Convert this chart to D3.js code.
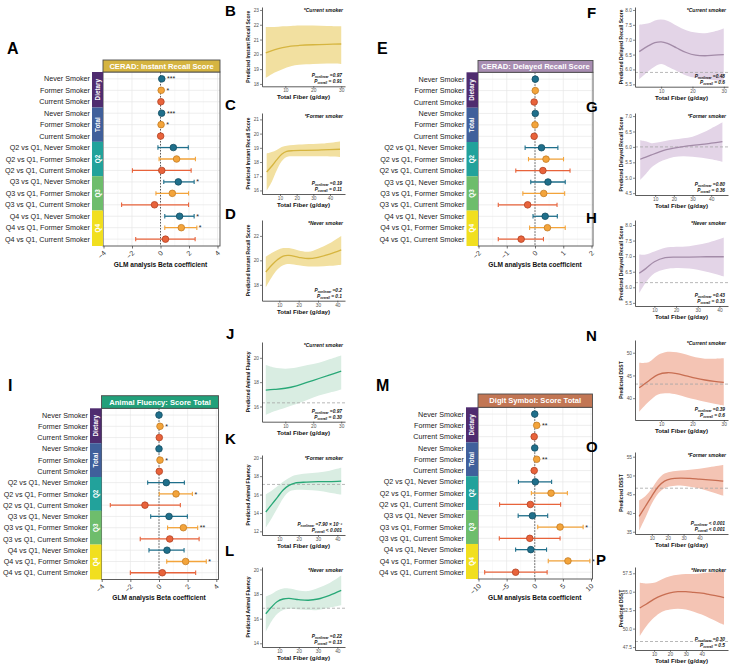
<!DOCTYPE html>
<html>
<head>
<meta charset="utf-8">
<script src="https://cdn.jsdelivr.net/npm/d3@7"></script>
<style>
body { margin: 0; background: #fff; }
svg { display: block; font-family: "Liberation Sans", Arial, sans-serif; }
</style>
</head>
<body>
<svg id="fig" width="734" height="664"></svg>
<script>
// ---- forest plot rows ----
const rowLabels = [
    "Never Smoker", "Former Smoker", "Current Smoker",
    "Never Smoker", "Former Smoker", "Current Smoker",
    "Q2 vs Q1, Never Smoker", "Q2 vs Q1, Former Smoker", "Q2 vs Q1, Current Smoker",
    "Q3 vs Q1, Never Smoker", "Q3 vs Q1, Former Smoker", "Q3 vs Q1, Current Smoker",
    "Q4 vs Q1, Never Smoker", "Q4 vs Q1, Former Smoker", "Q4 vs Q1, Current Smoker"
]
const rowSmoker = ["never", "former", "current", "never", "former", "current",
    "never", "former", "current", "never", "former", "current", "never", "former", "current"]
const groupNames = ["Dietary", "Total", "Q2", "Q3", "Q4"]

// CERAD instant recall
const irBeta = [0.09, 0.05, 0.03, 0.08, 0.04, 0.01, 0.90, 1.13, 0.09, 1.25, 0.83, -0.42, 1.34, 1.46, 0.35]
const irLow = [0.05, 0.01, -0.03, 0.04, 0.00, -0.05, -0.18, -0.10, -1.97, 0.23, -0.32, -2.73, 0.30, 0.30, -1.74]
const irHigh = [0.13, 0.09, 0.09, 0.12, 0.08, 0.07, 1.95, 2.45, 2.15, 2.36, 1.97, 1.97, 2.36, 2.55, 2.43]
const irStars = ["***", "*", "", "***", "*", "", "", "", "", "*", "", "", "*", "*", ""]

// CERAD delayed recall
const drBeta = [0.01, 0.01, -0.03, 0.01, 0.00, -0.03, 0.23, 0.39, 0.28, 0.46, 0.31, -0.26, 0.36, 0.44, -0.49]
const drLow = [-0.01, -0.01, -0.05, -0.01, -0.02, -0.05, -0.35, -0.23, -0.68, -0.15, -0.43, -1.30, -0.07, -0.19, -1.30]
const drHigh = [0.03, 0.03, -0.01, 0.03, 0.02, -0.01, 0.81, 1.01, 1.24, 1.07, 1.05, 0.78, 0.79, 1.07, 0.30]
const drStars = ["", "", "", "", "", "", "", "", "", "", "", "", "", "", ""]

// animal fluency
const afBeta = [0.00, 0.07, 0.02, 0.00, 0.07, 0.02, 0.51, 1.19, -0.98, 0.70, 1.70, 0.75, 0.56, 1.86, 0.23]
const afLow = [-0.04, 0.03, -0.03, -0.04, 0.03, -0.03, -0.79, 0.02, -3.40, -0.58, 0.60, -1.31, -0.70, 0.54, -2.00]
const afHigh = [0.04, 0.11, 0.07, 0.04, 0.11, 0.07, 1.77, 2.33, 1.49, 1.98, 2.70, 2.80, 1.75, 3.30, 2.56]
const afStars = ["", "*", "", "", "*", "", "", "*", "", "", "**", "", "", "*", ""]

// digit symbol
const dsBeta = [0.00, 0.35, -0.10, 0.00, 0.35, -0.10, 0.10, 2.90, -0.78, -0.42, 4.50, -0.88, -0.70, 5.90, -3.40]
const dsLow = [-0.15, 0.15, -0.30, -0.15, 0.15, -0.30, -2.90, -0.60, -6.25, -2.95, 0.53, -6.30, -3.40, 2.40, -8.90]
const dsHigh = [0.15, 0.55, 0.10, 0.15, 0.55, 0.10, 3.00, 5.80, 4.60, 2.30, 8.60, 4.50, 2.10, 9.80, 2.20]
const dsStars = ["", "**", "", "", "**", "", "", "", "", "", "*", "", "", "*", ""]

// ---- dose-response curves (fiber g/day) ----
const bX = [3, 6, 9, 12, 15, 20, 25, 30]
const bFit = [20.1, 20.3, 20.45, 20.55, 20.6, 20.65, 20.68, 20.7]
const bLo = [18.4, 18.75, 19.0, 19.2, 19.3, 19.35, 19.38, 19.35]
const bHi = [21.85, 21.85, 21.9, 21.92, 21.95, 21.95, 21.92, 21.9]

const cX = [2, 5, 8, 11, 14, 18, 25, 35, 46]
const cFit = [17.3, 17.7, 18.15, 18.55, 18.75, 18.8, 18.82, 18.85, 18.9]
const cLo = [16.0, 16.6, 17.4, 18.05, 18.35, 18.4, 18.4, 18.4, 18.35]
const cHi = [18.6, 18.7, 18.85, 19.05, 19.15, 19.2, 19.25, 19.3, 19.45]

const dX = [3, 6, 9, 12, 15, 20, 25, 30, 36, 42]
const dFit = [19.05, 19.6, 20.05, 20.35, 20.4, 20.25, 20.15, 20.25, 20.5, 20.85]
const dLo = [17.8, 18.6, 19.25, 19.6, 19.7, 19.6, 19.5, 19.5, 19.55, 19.65]
const dHi = [20.3, 20.6, 20.85, 21.0, 21.0, 20.8, 20.7, 20.95, 21.4, 22.0]

const fX = [3, 6, 8, 10, 12, 15, 18, 21, 24, 27, 30]
const fFit = [6.6, 6.8, 6.9, 6.93, 6.88, 6.72, 6.57, 6.48, 6.46, 6.48, 6.5]
const fLo = [5.67, 5.95, 6.1, 6.18, 6.1, 5.95, 5.8, 5.72, 5.68, 5.64, 5.6]
const fHi = [7.5, 7.55, 7.65, 7.68, 7.64, 7.47, 7.32, 7.24, 7.22, 7.28, 7.38]

const gX = [2, 5, 8, 12, 16, 20, 25, 30, 35, 40, 46]
const gFit = [5.6, 5.67, 5.74, 5.83, 5.91, 5.96, 6.01, 6.05, 6.08, 6.12, 6.17]
const gLo = [4.93, 5.12, 5.33, 5.5, 5.6, 5.67, 5.7, 5.68, 5.65, 5.6, 5.52]
const gHi = [6.22, 6.18, 6.12, 6.15, 6.2, 6.24, 6.28, 6.33, 6.45, 6.6, 6.8]

const hX = [3, 6, 10, 15, 20, 26, 34, 42]
const hFit = [6.45, 6.6, 6.82, 6.95, 6.97, 6.97, 6.98, 6.98]
const hLo = [5.82, 6.15, 6.45, 6.58, 6.62, 6.6, 6.5, 6.35]
const hHi = [7.05, 7.05, 7.15, 7.27, 7.3, 7.32, 7.42, 7.6]

const jX = [3, 6, 10, 14, 18, 22, 26, 30]
const jFit = [17.35, 17.4, 17.5, 17.7, 18.0, 18.3, 18.6, 18.9]
const jLo = [15.3, 15.6, 15.9, 16.2, 16.55, 16.9, 17.15, 17.4]
const jHi = [19.4, 19.2, 19.1, 19.2, 19.4, 19.6, 19.9, 20.2]

const kX = [3, 6, 9, 12, 15, 18, 24, 30, 36, 42]
const kFit = [14.1, 14.9, 15.7, 16.5, 17.0, 17.25, 17.35, 17.4, 17.4, 17.45]
const kLo = [12.4, 13.4, 14.5, 15.6, 16.3, 16.5, 16.5, 16.4, 16.2, 16.0]
const kHi = [16.0, 16.4, 16.9, 17.4, 17.8, 18.1, 18.3, 18.4, 18.6, 18.9]

const lX = [3, 6, 9, 12, 15, 20, 25, 30, 36, 42]
const lFit = [16.4, 16.95, 17.4, 17.6, 17.65, 17.55, 17.5, 17.6, 17.9, 18.3]
const lLo = [14.95, 15.8, 16.4, 16.7, 16.8, 16.75, 16.7, 16.7, 16.9, 17.1]
const lHi = [17.8, 18.0, 18.3, 18.45, 18.45, 18.3, 18.25, 18.5, 18.9, 19.5]

const nX = [3, 6, 9, 12, 15, 18, 21, 24, 27, 30]
const nFit = [42.3, 43.8, 45.2, 45.6, 45.4, 44.9, 44.4, 44.0, 43.7, 43.5]
const nLo = [37.0, 39.2, 40.8, 41.1, 40.8, 40.2, 39.7, 39.2, 38.8, 38.4]
const nHi = [47.8, 47.9, 49.5, 50.2, 50.1, 49.6, 49.0, 48.7, 48.7, 48.8]

const oX = [2, 6, 10, 14, 18, 22, 28, 34, 40, 46, 52, 55]
const oFit = [39.1, 41.8, 44.5, 47.0, 48.5, 49.1, 49.3, 49.2, 49.0, 48.8, 48.6, 48.5]
const oLo = [35.3, 38.8, 42.5, 45.2, 46.6, 47.1, 47.3, 47.0, 46.5, 45.8, 45.0, 44.6]
const oHi = [43.3, 44.5, 46.5, 49.0, 50.5, 51.0, 51.3, 51.5, 51.8, 52.2, 52.6, 52.8]

const pX = [1, 5, 10, 15, 20, 25, 30, 35, 40, 45, 50, 54]
const pFit = [52.8, 53.3, 54.0, 54.5, 54.85, 55.0, 55.0, 54.9, 54.8, 54.6, 54.4, 54.2]
const pLo = [49.0, 50.3, 51.5, 52.3, 52.6, 52.7, 52.6, 52.3, 51.9, 51.4, 50.9, 50.5]
const pHi = [56.2, 56.1, 56.2, 56.7, 57.1, 57.3, 57.4, 57.4, 57.5, 57.6, 57.7, 57.8]

const smokerFill = { never: "#1f6f8b", former: "#f3a43b", current: "#e8633b" }
const smokerEdge = { never: "#154e62", former: "#c47c24", current: "#b24324" }
const groupFill = ["#4f2c6f", "#40609b", "#22a29b", "#6ebd6c", "#f1df1f"]

const svg = d3.select("#fig")

const letter = (txt, x, y, size) => {
    svg.append("text").attr("x", x).attr("y", y)
        .attr("font-size", size || 15).attr("font-weight", "bold")
        .attr("fill", "#000").text(txt)
}

const forestPlot = o => {
    const g = svg.append("g")
    const x = d3.scaleLinear().domain(o.domain).range(o.xr)
    const y = d3.scalePoint().domain(d3.range(rowLabels.length))
        .range([o.top, o.bottom]).padding(0.6)

    // grid
    const minor = d3.range(o.ticks.length - 1).map(i => (o.ticks[i] + o.ticks[i + 1]) / 2)
    g.selectAll(".mg").data(minor).enter().append("line")
        .attr("x1", d => x(d)).attr("x2", d => x(d))
        .attr("y1", o.top).attr("y2", o.bottom)
        .attr("stroke", "#f3f3f3").attr("stroke-width", 0.5)
    g.selectAll(".vg").data(o.ticks).enter().append("line")
        .attr("x1", d => x(d)).attr("x2", d => x(d))
        .attr("y1", o.top).attr("y2", o.bottom)
        .attr("stroke", "#e6e6e6").attr("stroke-width", 0.7)
    g.selectAll(".hg").data(d3.range(rowLabels.length)).enter().append("line")
        .attr("x1", o.left).attr("x2", o.right)
        .attr("y1", d => y(d)).attr("y2", d => y(d))
        .attr("stroke", "#e6e6e6").attr("stroke-width", 0.7)
    g.append("line")
        .attr("x1", x(0)).attr("x2", x(0)).attr("y1", o.top).attr("y2", o.bottom)
        .attr("stroke", "#333").attr("stroke-width", 0.8).attr("stroke-dasharray", "1.5,1.5")

    // estimates
    const rows = rowLabels.map((lab, i) => ({
        i, s: rowSmoker[i], b: o.beta[i], lo: o.low[i], hi: o.high[i], star: o.stars[i]
    }))
    const ci = g.selectAll(".ci").data(rows).enter().append("g")
    ci.append("line")
        .attr("x1", d => x(d.lo)).attr("x2", d => x(d.hi))
        .attr("y1", d => y(d.i)).attr("y2", d => y(d.i))
        .attr("stroke", d => smokerFill[d.s]).attr("stroke-width", 1.3)
    ci.append("line")
        .attr("x1", d => x(d.lo)).attr("x2", d => x(d.lo))
        .attr("y1", d => y(d.i) - 2.2).attr("y2", d => y(d.i) + 2.2)
        .attr("stroke", d => smokerFill[d.s]).attr("stroke-width", 1.1)
    ci.append("line")
        .attr("x1", d => x(d.hi)).attr("x2", d => x(d.hi))
        .attr("y1", d => y(d.i) - 2.2).attr("y2", d => y(d.i) + 2.2)
        .attr("stroke", d => smokerFill[d.s]).attr("stroke-width", 1.1)
    ci.append("circle")
        .attr("cx", d => x(d.b)).attr("cy", d => y(d.i)).attr("r", 3.3)
        .attr("fill", d => smokerFill[d.s]).attr("stroke", d => smokerEdge[d.s])
        .attr("stroke-width", 0.8)
    ci.append("text")
        .attr("x", d => Math.max(x(d.hi), x(d.b) + 3.3) + 2).attr("y", d => y(d.i) + 2.6)
        .attr("font-size", 7).attr("fill", "#222").text(d => d.star)

    // frame
    g.append("rect").attr("x", o.left).attr("y", o.top)
        .attr("width", o.right - o.left).attr("height", o.bottom - o.top)
        .attr("fill", "none").attr("stroke", "#4d4d4d").attr("stroke-width", 0.9)

    // title strip
    g.append("rect").attr("x", o.left).attr("y", o.titleTop)
        .attr("width", o.right - o.left).attr("height", o.top - o.titleTop)
        .attr("fill", o.color).attr("stroke", "#4d4d4d").attr("stroke-width", 0.9)
    g.append("text").attr("x", (o.left + o.right) / 2).attr("y", (o.titleTop + o.top) / 2 + 2.8)
        .attr("text-anchor", "middle").attr("font-size", 7.6).attr("font-weight", "bold")
        .attr("fill", "#fff").text(o.title)

    // group strips
    const edges = [o.top]
    for (let k = 1; k < groupNames.length; k += 1) edges.push((y(3 * k - 1) + y(3 * k)) / 2)
    edges.push(o.bottom)
    groupNames.forEach((name, k) => {
        g.append("rect").attr("x", o.stripLeft).attr("y", edges[k])
            .attr("width", o.left - o.stripLeft).attr("height", edges[k + 1] - edges[k])
            .attr("fill", groupFill[k])
        const cx = (o.stripLeft + o.left) / 2 + 2.2
        const cy = (edges[k] + edges[k + 1]) / 2
        g.append("text").attr("transform", `translate(${cx},${cy}) rotate(-90)`)
            .attr("text-anchor", "middle").attr("font-size", 6.3).attr("font-weight", "bold")
            .attr("fill", "#fff").text(name)
    })

    // row labels
    g.selectAll(".rl").data(rowLabels).enter().append("text")
        .attr("x", o.stripLeft - 2).attr("y", (d, i) => y(i) + 2.6)
        .attr("text-anchor", "end").attr("font-size", 7.2).attr("fill", "#1a1a1a")
        .text(d => d)

    // x axis
    const ax = g.append("g").attr("transform", `translate(0,${o.bottom})`)
        .call(d3.axisBottom(x).tickValues(o.ticks).tickFormat(d3.format("d")).tickSize(2.5).tickSizeOuter(0))
    ax.select(".domain").remove()
    ax.selectAll(".tick line").attr("stroke", "#333").attr("stroke-width", 0.7)
    ax.selectAll(".tick text")
        .attr("x", 0).attr("y", 0).attr("dy", "0.3em")
        .attr("transform", "translate(1,6) rotate(-45)")
        .attr("text-anchor", "end").attr("font-size", 7).attr("fill", "#333")
        .attr("font-family", "Liberation Sans, Arial, sans-serif")
    g.append("text").attr("x", x(0)).attr("y", o.bottom + 20.5)
        .attr("text-anchor", "middle").attr("font-size", 6.6).attr("font-weight", "bold")
        .attr("fill", "#111").text("GLM analysis Beta coefficient")
}

const fiberPlot = o => {
    const g = svg.append("g")
    const x = d3.scaleLinear().domain(o.xDom).range([o.left, o.right])
    const y = d3.scaleLinear().domain(o.yDom).range([o.bottom, o.top])
    const pts = o.xs.map((v, i) => ({ x: v, fit: o.fit[i], lo: o.lo[i], hi: o.hi[i] }))

    g.append("path").datum(pts)
        .attr("d", d3.area().curve(d3.curveCatmullRom)
            .x(d => x(d.x)).y0(d => y(d.lo)).y1(d => y(d.hi)))
        .attr("fill", o.ribbon)
    if (o.ref != null) {
        g.append("line").attr("x1", o.left).attr("x2", o.right)
            .attr("y1", y(o.ref)).attr("y2", y(o.ref))
            .attr("stroke", "#a6a6a6").attr("stroke-width", 0.8).attr("stroke-dasharray", "3,2")
    }
    g.append("path").datum(pts)
        .attr("d", d3.line().curve(d3.curveCatmullRom).x(d => x(d.x)).y(d => y(d.fit)))
        .attr("fill", "none").attr("stroke", o.line).attr("stroke-width", 1.3)

    const ay = g.append("g").attr("transform", `translate(${o.left},0)`)
        .call(d3.axisLeft(y).tickValues(o.yTicks).tickFormat(d3.format(o.fmt)).tickSize(2).tickSizeOuter(0))
    const axb = g.append("g").attr("transform", `translate(0,${o.bottom})`)
        .call(d3.axisBottom(x).tickValues(o.xTicks).tickSize(2).tickSizeOuter(0))
    for (const a of [ay, axb]) {
        a.select(".domain").attr("stroke", "#333").attr("stroke-width", 0.8)
        a.selectAll(".tick line").attr("stroke", "#333").attr("stroke-width", 0.6)
        a.selectAll(".tick text").attr("font-size", 4.8).attr("fill", "#555")
            .attr("font-family", "Liberation Sans, Arial, sans-serif")
    }
    ay.selectAll(".tick text").attr("x", -3)
    axb.selectAll(".tick text").attr("y", 2.6)

    g.append("text").attr("transform", `translate(${o.left - 12.5},${(o.top + o.bottom) / 2}) rotate(-90)`)
        .attr("text-anchor", "middle").attr("font-size", 5).attr("font-weight", "bold")
        .attr("fill", "#111").text(o.yTitle)
    g.append("text").attr("x", (o.left + o.right) / 2).attr("y", o.bottom + 13)
        .attr("text-anchor", "middle").attr("font-size", 6.2).attr("font-weight", "bold")
        .attr("fill", "#111").text("Total Fiber (g/day)")

    g.append("text").attr("x", o.right - 2).attr("y", o.top + 5)
        .attr("text-anchor", "end").attr("font-size", 5).attr("font-weight", "bold")
        .attr("font-style", "italic").attr("fill", "#111").text(o.group)
    const pLine = (yy, sub, val) => {
        const t = g.append("text").attr("x", o.right - 3).attr("y", yy)
            .attr("text-anchor", "end").attr("font-size", 4.8).attr("font-weight", "bold")
            .attr("font-style", "italic").attr("fill", "#111")
        t.append("tspan").text("P")
        t.append("tspan").attr("font-size", 3).attr("dy", 1).text(sub)
        t.append("tspan").attr("dy", -1).text(" " + val)
    }
    pLine(o.bottom - 9, "nonlinear", o.pNl)
    pLine(o.bottom - 3, "overall", o.pOv)
}

// ---- forest panels ----
forestPlot({ title: "CERAD: Instant Recall Score", color: "#d5b441", beta: irBeta, low: irLow, high: irHigh, stars: irStars,
    domain: [-4, 4], ticks: [-4, -2, 0, 2, 4], xr: [103.5, 217.5], left: 103, right: 220, stripLeft: 92,
    titleTop: 60, top: 72, bottom: 246 })
forestPlot({ title: "CERAD: Delayed Recall Score", color: "#a88db2", beta: drBeta, low: drLow, high: drHigh, stars: drStars,
    domain: [-2, 2], ticks: [-2, -1, 0, 1, 2], xr: [478.5, 591.5], left: 478, right: 593, stripLeft: 466.5,
    titleTop: 60.5, top: 72.3, bottom: 246 })
forestPlot({ title: "Animal Fluency: Score Total", color: "#22a07a", beta: afBeta, low: afLow, high: afHigh, stars: afStars,
    domain: [-4, 4], ticks: [-4, -2, 0, 2, 4], xr: [101.7, 216.3], left: 101.5, right: 218.5, stripLeft: 90,
    titleTop: 395.7, top: 408.3, bottom: 579.5 })
forestPlot({ title: "Digit Symbol: Score Total", color: "#c27654", beta: dsBeta, low: dsLow, high: dsHigh, stars: dsStars,
    domain: [-10, 10], ticks: [-10, -5, 0, 5, 10], xr: [478.5, 591], left: 478, right: 592.5, stripLeft: 466,
    titleTop: 394, top: 407.3, bottom: 579 })

// ---- curve panels ----
const col2 = { left: 262, right: 345 }
const col4 = { left: 635, right: 728 }
const curX = [1.65, 31.35]

fiberPlot({ ...col2, top: 7, bottom: 86.3, xDom: curX, xTicks: [10, 20, 30], yDom: [17.84, 23.2], yTicks: [18, 19, 20, 21, 22, 23], fmt: "d",
    xs: bX, fit: bFit, lo: bLo, hi: bHi, ribbon: "#f2e0a0", line: "#d6b540", yTitle: "Predicted Instant Recall Score",
    group: "*Current smoker", pNl: "=0.97", pOv: "= 0.91" })
fiberPlot({ ...col2, top: 113, bottom: 194, xDom: [-0.8, 49], xTicks: [10, 20, 30, 40], yDom: [15.75, 21.45], yTicks: [16, 17, 18, 19, 20, 21], fmt: "d",
    xs: cX, fit: cFit, lo: cLo, hi: cHi, ribbon: "#f2e0a0", line: "#d6b540", yTitle: "Predicted Instant Recall Score",
    group: "*Former smoker", pNl: "=0.19", pOv: "= 0.11" })
fiberPlot({ ...col2, top: 220, bottom: 300.7, xDom: [1.05, 43.95], xTicks: [10, 20, 30, 40], yDom: [16.7, 23.3], yTicks: [18, 20, 22], fmt: "d",
    xs: dX, fit: dFit, lo: dLo, hi: dHi, ribbon: "#f2e0a0", line: "#d6b540", yTitle: "Predicted Instant Recall Score",
    group: "*Never smoker", pNl: "=0.2", pOv: "= 0.1" })

fiberPlot({ ...col4, top: 7, bottom: 86.7, xDom: curX, xTicks: [10, 20, 30], yDom: [5.42, 8.1], yTicks: [5.5, 6, 6.5, 7, 7.5, 8], fmt: ".1f",
    xs: fX, fit: fFit, lo: fLo, hi: fHi, ref: 5.9, ribbon: "#e3d4e7", line: "#a38ba8", yTitle: "Predicted Delayed Recall Score",
    group: "*Current smoker", pNl: "=0.48", pOv: "= 0.6" })
fiberPlot({ ...col4, top: 113, bottom: 195, xDom: [-0.8, 49], xTicks: [10, 20, 30, 40], yDom: [4.44, 7.1], yTicks: [4.5, 5, 5.5, 6, 6.5, 7], fmt: ".1f",
    xs: gX, fit: gFit, lo: gLo, hi: gHi, ref: 6.0, ribbon: "#e3d4e7", line: "#a38ba8", yTitle: "Predicted Delayed Recall Score",
    group: "*Former smoker", pNl: "=0.80", pOv: "= 0.36" })
fiberPlot({ ...col4, top: 220, bottom: 306, xDom: [1.05, 43.95], xTicks: [10, 20, 30, 40], yDom: [5.4, 8.16], yTicks: [5.5, 6, 6.5, 7, 7.5, 8], fmt: ".1f",
    xs: hX, fit: hFit, lo: hLo, hi: hHi, ref: 6.15, ribbon: "#e3d4e7", line: "#a38ba8", yTitle: "Predicted Delayed Recall Score",
    group: "*Never smoker", pNl: "=0.43", pOv: "= 0.33" })

fiberPlot({ ...col2, top: 342, bottom: 421.7, xDom: curX, xTicks: [10, 20, 30], yDom: [14.75, 21.3], yTicks: [16, 18, 20], fmt: "d",
    xs: jX, fit: jFit, lo: jLo, hi: jHi, ref: 16.3, ribbon: "#d9ede2", line: "#28a877", yTitle: "Predicted Animal Fluency",
    group: "*Current smoker", pNl: "=0.97", pOv: "= 0.30" })
fiberPlot({ ...col2, top: 455, bottom: 535, xDom: [1.05, 43.95], xTicks: [10, 20, 30, 40], yDom: [11.6, 20.3], yTicks: [12, 14, 16, 18, 20], fmt: "d",
    xs: kX, fit: kFit, lo: kLo, hi: kHi, ref: 17.1, ribbon: "#d9ede2", line: "#28a877", yTitle: "Predicted Animal Fluency",
    group: "*Former smoker", pNl: "=7.90 × 10⁻³", pOv: "< 0.001" })
fiberPlot({ ...col2, top: 567, bottom: 647, xDom: [1.05, 43.95], xTicks: [10, 20, 30, 40], yDom: [13.7, 20.2], yTicks: [14, 16, 18, 20], fmt: "d",
    xs: lX, fit: lFit, lo: lLo, hi: lHi, ref: 16.85, ribbon: "#d9ede2", line: "#28a877", yTitle: "Predicted Animal Fluency",
    group: "*Never smoker", pNl: "=0.22", pOv: "= 0.13" })

fiberPlot({ ...col4, top: 340, bottom: 420, xDom: curX, xTicks: [10, 20, 30], yDom: [35.2, 52.8], yTicks: [40, 45, 50], fmt: "d",
    xs: nX, fit: nFit, lo: nLo, hi: nHi, ref: 43.1, ribbon: "#f4c4b4", line: "#c86e52", yTitle: "Predicted DSST",
    group: "*Current smoker", pNl: "=0.39", pOv: "= 0.6" })
fiberPlot({ ...col4, top: 452, bottom: 534, xDom: [-0.6, 58], xTicks: [10, 20, 30, 40], yDom: [34.4, 56.25], yTicks: [35, 40, 45, 50, 55], fmt: "d",
    xs: oX, fit: oFit, lo: oLo, hi: oHi, ref: 46.6, ribbon: "#f4c4b4", line: "#c86e52", yTitle: "Predicted DSST",
    group: "*Former smoker", pNl: "< 0.001", pOv: "< 0.001" })
fiberPlot({ ...col4, top: 567, bottom: 650, xDom: [-2, 56.5], xTicks: [10, 20, 30, 40], yDom: [47.1, 58.35], yTicks: [47.5, 50, 52.5, 55, 57.5], fmt: ".1f",
    xs: pX, fit: pFit, lo: pLo, hi: pHi, ref: 48.25, ribbon: "#f4c4b4", line: "#c86e52", yTitle: "Predicted DSST",
    group: "*Never smoker", pNl: "=0.30", pOv: "= 0.5" })

// ---- panel letters ----
letter("A", 7, 54, 16); letter("E", 377, 54, 16)
letter("I", 8, 391, 16); letter("M", 376, 391, 16)
letter("B", 225, 16); letter("C", 225, 110); letter("D", 225, 219)
letter("J", 226, 339); letter("K", 225, 444); letter("L", 225, 556)
letter("F", 587, 18); letter("G", 586, 112); letter("H", 586, 223)
letter("N", 586, 341); letter("O", 586, 452); letter("P", 596, 565)
</script>
</body>
</html>
